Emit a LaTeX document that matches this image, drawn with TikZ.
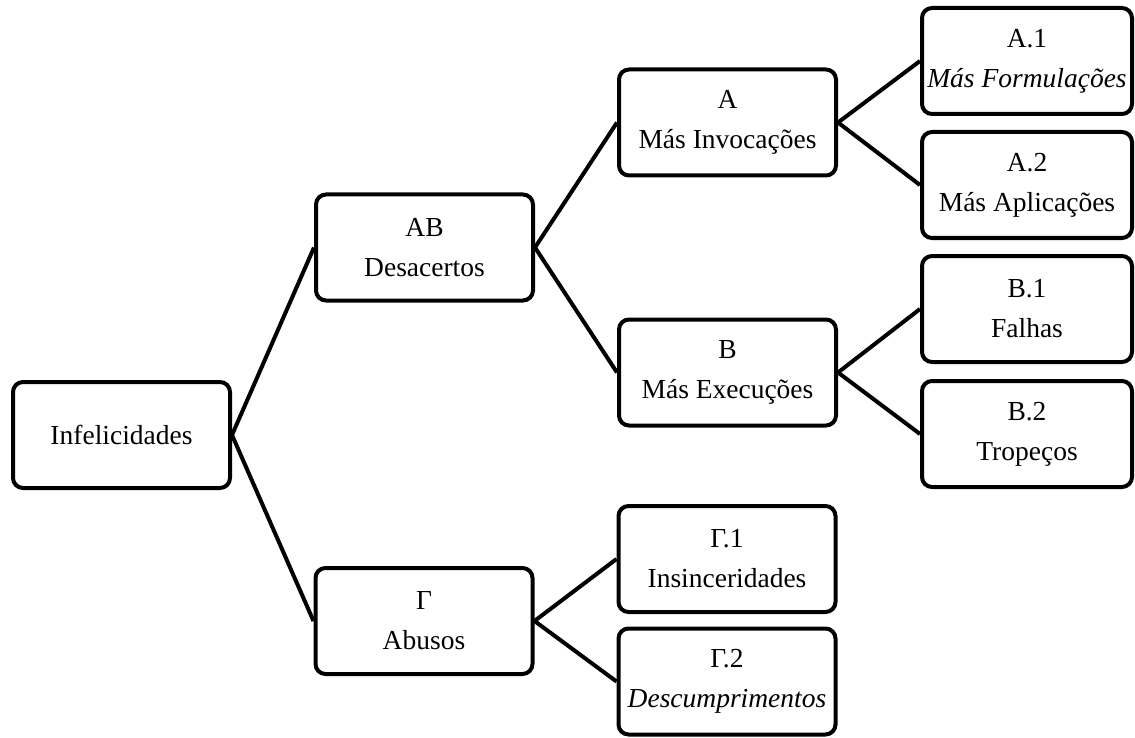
\documentclass[tikz,border=0pt]{standalone}
\usepackage{fontspec}
\setmainfont{Liberation Serif}
\begin{document}
\begin{tikzpicture}[x=1pt,y=-1pt,
  box/.style={draw, line width=4pt, rounded corners=10pt, align=center,
    minimum height=106pt, inner sep=0pt,
    font=\fontsize{27.5}{40}\selectfont},
  midbox/.style={box, minimum width=217pt},
  leafbox/.style={box, minimum width=210pt},
  link/.style={line width=4pt}]

% canvas
\fill[white] (0,0) rectangle (1135,738);
\useasboundingbox (0,0) rectangle (1135,738);

% root
\node[box, minimum width=217pt] (inf) at (121.5,435) {Infelicidades};

% second level
\node[midbox] (ab) at (424.5,247.5) {AB\\Desacertos};
\node[midbox] (g)  at (424,621)     {Γ\\Abusos};

% third level
\node[midbox] (a)  at (727.5,122.5) {A\\Más Invocações};
\node[midbox] (b)  at (727.5,372.5) {B\\Más Execuções};
\node[midbox] (g1) at (727,559)     {Γ.1\\Insinceridades};
\node[midbox] (g2) at (727,681.5)   {Γ.2\\\textit{Descumprimentos}};

% leaves
\node[leafbox] (a1) at (1027,61)  {A.1\\\textit{Más Formulações}};
\node[leafbox] (a2) at (1027,185) {A.2\\Más Aplicações};
\node[leafbox] (b1) at (1027,309) {B.1\\Falhas};
\node[leafbox] (b2) at (1027,434) {B.2\\Tropeços};

% connectors
\draw[link] (inf.east) -- (ab.west);
\draw[link] (inf.east) -- (g.west);
\draw[link] (ab.east) -- (a.west);
\draw[link] (ab.east) -- (b.west);
\draw[link] (g.east) -- (g1.west);
\draw[link] (g.east) -- (g2.west);
\draw[link] (a.east) -- (a1.west);
\draw[link] (a.east) -- (a2.west);
\draw[link] (b.east) -- (b1.west);
\draw[link] (b.east) -- (b2.west);
\end{tikzpicture}
\end{document}
